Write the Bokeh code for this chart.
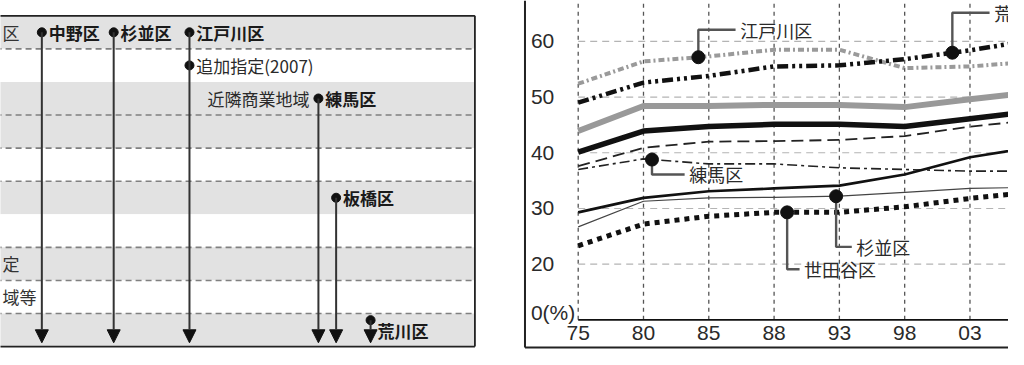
import numpy as np
from bokeh.plotting import figure
from bokeh.models import Range1d, ColumnDataSource, Arrow, NormalHead
from bokeh.layouts import row
from bokeh.embed import file_html
from bokeh.resources import INLINE
from bokeh.core.properties import value

# ---------------- left panel data ----------------
n_rows = 10
row_shaded = [1, 0, 1, 1, 0, 1, 0, 1, 0, 1]
row_dashed_above = [0, 1, 0, 1, 1, 1, 0, 1, 1, 1]
edge_labels = ["区", "定", "域等"]
edge_label_row = [0, 7, 8]
wards = ["中野区", "杉並区", "江戸川区", "練馬区", "板橋区", "荒川区"]
ward_pos = [42, 115, 192, 323, 341, 376]
ward_row = [0, 0, 0, 2, 5, 9]
notes = ["追加指定(2007)", "近隣商業地域"]
note_ward = ["江戸川区", "練馬区"]
note_row = [1, 2]
note_side = ["right", "left"]

# ---------------- right panel data ----------------
years = ["75", "80", "85", "88", "93", "98", "03", "08"]
yticks = [20, 30, 40, 50, 60]
edogawa = [52.4, 56.4, 57.3, 58.5, 58.5, 55.2, 55.5, 56.4]
arakawa = [49.0, 52.6, 53.8, 55.5, 55.7, 56.8, 58.4, 60.3]
thick_gray = [43.9, 48.4, 48.4, 48.6, 48.6, 48.2, 49.6, 50.9]
thick_black = [40.1, 43.9, 44.7, 45.1, 45.1, 44.7, 46.1, 47.5]
dashed_black = [37.6, 40.9, 42.0, 42.1, 42.3, 43.0, 44.7, 45.9]
nerima = [37.0, 38.9, 38.0, 38.0, 37.3, 37.0, 36.7, 36.7]
medium_black = [29.3, 31.9, 33.1, 33.6, 34.1, 36.1, 39.2, 41.1]
suginami = [26.7, 31.3, 31.9, 32.0, 32.2, 32.9, 33.6, 33.8]
setagaya = [23.3, 27.2, 28.6, 29.3, 29.3, 30.3, 31.8, 33.0]

CJK = value("Noto Sans CJK JP")
NUMF = value("Liberation Sans")

W1, W2, H = 500, 508, 349

# ================= LEFT FIGURE =================
BOX_R = 482
p1 = figure(width=W1, height=H, x_range=Range1d(0, 508), y_range=Range1d(-0.087, 10.462),
            x_axis_type=None, y_axis_type=None, output_backend="svg",
            toolbar_location=None, min_border=0)
p1.outline_line_color = None

rows_idx = np.arange(n_rows)
tops = n_rows - rows_idx
bots = tops - 1
shade = ["#e2e2e2" if s else "#ffffff" for s in row_shaded]
p1.quad(left=-5, right=BOX_R, top=tops, bottom=bots, fill_color=shade, line_color=None)

dash_y = [n_rows - i for i in range(n_rows) if row_dashed_above[i]]
p1.segment(x0=-5, y0=dash_y, x1=BOX_R, y1=dash_y, line_color="#808080",
           line_width=1.6, line_dash="6 4")

# outer box
p1.segment(x0=[-5, -5, BOX_R], y0=[n_rows, 0, 0], x1=[BOX_R, BOX_R, BOX_R],
           y1=[n_rows, 0, n_rows], line_color="#222222", line_width=1.8)

# row labels at the left edge
p1.text(x=2, y=[n_rows - r - 0.5 for r in edge_label_row], text=edge_labels,
        text_align="left", text_baseline="middle", text_font=CJK,
        text_font_size=value("17px"), text_color="#333333")

row_center = {i: n_rows - i - 0.5 for i in range(n_rows)}
dot_y = [row_center[r] + (0.3 if r == n_rows - 1 else 0) for r in ward_row]
label_y = [row_center[r] for r in ward_row]

arrow_src = ColumnDataSource(dict(x=ward_pos, y0=dot_y, y1=[0.116] * len(wards)))
p1.add_layout(Arrow(end=NormalHead(size=13, fill_color="#111111", line_color="#111111", line_width=1),
                    x_start="x", y_start="y0", x_end="x", y_end="y1", source=arrow_src,
                    line_color="#333333", line_width=2))
p1.scatter(x=ward_pos, y=dot_y, size=9, color="#111111")
p1.text(x=[x + 7 for x in ward_pos], y=label_y, text=wards, text_align="left",
        text_baseline="middle", text_font=CJK, text_font_size=value("17px"),
        text_font_style="bold", text_color="#1a1a1a")

wpos = dict(zip(wards, ward_pos))
for t, w, r, side in zip(notes, note_ward, note_row, note_side):
    x = wpos[w]
    if side == "right":
        p1.scatter(x=[x], y=[row_center[r]], size=9, color="#111111")
        p1.text(x=[x + 7], y=[row_center[r]], text=[t], text_align="left", text_baseline="middle",
                text_font=CJK, text_font_size=value("17px"), text_color="#2a2a2a")
    else:
        p1.text(x=[x - 9], y=[row_center[r]], text=[t], text_align="right", text_baseline="middle",
                text_font=CJK, text_font_size=value("17px"), text_color="#2a2a2a")

# ================= RIGHT FIGURE =================
BASE = 10
XMAX = 6.59
YTOP = 67.34
p2 = figure(width=W2, height=H, x_range=Range1d(-1.19, XMAX), y_range=Range1d(4.68, YTOP),
            x_axis_type=None, y_axis_type=None, output_backend="svg",
            toolbar_location=None, min_border=0)
p2.outline_line_color = None

xi = np.arange(len(years))
# grid
p2.segment(x0=xi, y0=BASE, x1=xi, y1=YTOP, line_color="#555555", line_width=1.3, line_dash="4 4")
p2.segment(x0=0, y0=yticks, x1=xi[-1], y1=yticks, line_color="#b4b4b4", line_width=1.1, line_dash="7 5")
# baseline and outer frame
p2.segment(x0=0, y0=BASE, x1=xi[-1], y1=BASE, line_color="#111111", line_width=1.6)
p2.segment(x0=[-0.815, -0.815], y0=[5.02, 5.02], x1=[-0.815, xi[-1]], y1=[YTOP, 5.02],
           line_color="#222222", line_width=2)

# tick labels (only those inside the visible range)
vis = [i for i in xi if i <= XMAX - 0.2]
p2.text(x=vis, y=7.6, text=[years[i] for i in vis], text_align="center", text_baseline="middle",
        text_font=NUMF, text_font_size=value("21px"), text_color="#2a2a2a")
p2.text(x=-0.724, y=yticks + [BASE + 1.4], text=[str(v) for v in yticks] + ["0(%)"],
        text_align="left", text_baseline="middle", text_font=NUMF,
        text_font_size=value("21px"), text_color="#2a2a2a")

series = [
    (edogawa, "#9a9a9a", 4, "6 3 2 3"),
    (arakawa, "#111111", 4.5, "11 4 3 4 3 4"),
    (thick_gray, "#999999", 6, "solid"),
    (thick_black, "#111111", 5.5, "solid"),
    (dashed_black, "#222222", 1.8, "12 6"),
    (nerima, "#222222", 1.6, "10 4 3 4"),
    (medium_black, "#111111", 2.6, "solid"),
    (suginami, "#444444", 1.2, "solid"),
    (setagaya, "#111111", 5, "5 5"),
]
for vals, col, w, dash in series:
    p2.line(x=xi, y=vals, line_color=col, line_width=w, line_dash=dash)

# call-outs: (label, series, marker position, label level, label position)
callouts = [
    ("江戸川区", edogawa, 1.84, 62.1, 2.41),
    ("練馬区", nerima, 1.13, 36.1, 1.63),
    ("杉並区", suginami, 3.95, 23.1, 4.19),
    ("世田谷区", setagaya, 3.2, 19.1, 3.39),
    ("荒川区", arakawa, 5.73, 65.15, 6.30),
]
for name, vals, m, ly, lx in callouts:
    my = float(np.interp(m, xi, vals))
    p2.line(x=[m, m, lx], y=[my, ly, ly], line_color="#555555", line_width=2.4)
    p2.scatter(x=[m], y=[my], size=13, color="#111111")
    p2.text(x=[lx + 0.07], y=[ly], text=[name], text_align="left", text_baseline="middle",
            text_font=CJK, text_font_size=value("18px"), text_color="#2a2a2a")

layout = row(p1, p2)
open("out.html", "w").write(file_html(layout, INLINE))
